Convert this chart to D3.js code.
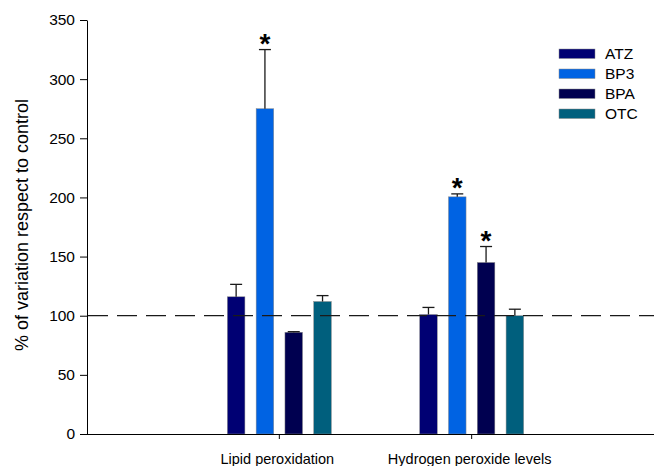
<!DOCTYPE html>
<html>
<head>
<meta charset="utf-8">
<script src="https://cdn.jsdelivr.net/npm/d3@7"></script>
<style>
  html, body { margin: 0; padding: 0; background: #fff; }
  svg { display: block; font-family: Arial, "Liberation Sans", sans-serif; }
</style>
</head>
<body>
<svg id="chart" width="654" height="466"></svg>
<script>
// Assay groups on the x axis
const categories = ["Lipid peroxidation", "Hydrogen peroxide levels"];
// Treatments (legend order)
const series = ["ATZ", "BP3", "BPA", "OTC"];
const seriesColors = ["#000073", "#0063E3", "#000050", "#005F7D"];
// Mean % of control, per treatment, in category order
const meanATZ = [116, 101];
const meanBP3 = [275, 200.5];
const meanBPA = [86, 145];
const meanOTC = [112, 100];
// Upper error (SE), same layout
const errATZ = [10.5, 6];
const errBP3 = [50, 2.5];
const errBPA = [0.5, 13.5];
const errOTC = [5, 5.5];
// Significant differences vs control
const sigATZ = [false, false];
const sigBP3 = [true, true];
const sigBPA = [false, true];
const sigOTC = [false, false];
const yTicks = [0, 50, 100, 150, 200, 250, 300, 350];
const controlLevel = 100;
const yTitle = "% of variation respect to control";

const means = [meanATZ, meanBP3, meanBPA, meanOTC];
const errs = [errATZ, errBP3, errBPA, errOTC];
const sigs = [sigATZ, sigBP3, sigBPA, sigOTC];

const rows = [];
series.forEach((s, i) => {
  categories.forEach((c, j) => {
    rows.push({ series: s, cat: c, mean: means[i][j], err: errs[i][j], sig: sigs[i][j], color: seriesColors[i] });
  });
});

const svg = d3.select("#chart");
const plotLeft = 87, plotTop = 20, plotBottom = 434, plotRight = 664;

const x0 = d3.scaleBand().domain(categories).range([plotLeft, plotRight]).paddingInner(0).paddingOuter(0.5);
const x1 = d3.scaleBand().domain(series).range([-57.6, 57.6]).paddingInner(0.39).paddingOuter(0.195);
const y = d3.scaleLinear().domain([0, 350]).range([plotBottom, plotTop]);

const barX = d => x0(d.cat) + x0.bandwidth() / 2 + x1(d.series);

// Bars
svg.append("g").selectAll("rect").data(rows).join("rect")
  .attr("x", barX)
  .attr("y", d => y(d.mean))
  .attr("width", x1.bandwidth())
  .attr("height", d => y(0) - y(d.mean))
  .attr("fill", d => d.color)
  .attr("stroke", "#8a8a8a")
  .attr("stroke-width", 0.5);

// Upper error bars
const eb = svg.append("g").attr("stroke", "#1a1a1a").attr("stroke-width", 1.3);
rows.forEach(d => {
  const cx = barX(d) + x1.bandwidth() / 2;
  eb.append("line").attr("x1", cx).attr("x2", cx).attr("y1", y(d.mean)).attr("y2", y(d.mean + d.err));
  eb.append("line").attr("x1", cx - 6).attr("x2", cx + 6).attr("y1", y(d.mean + d.err)).attr("y2", y(d.mean + d.err));
});

// Significance markers
svg.append("g").selectAll("text").data(rows.filter(d => d.sig)).join("text")
  .attr("x", d => barX(d) + x1.bandwidth() / 2)
  .attr("y", d => y(d.mean + d.err) + 3)
  .attr("text-anchor", "middle")
  .attr("font-size", 28)
  .attr("font-weight", "bold")
  .attr("fill", "#000")
  .text("*");

// Control reference line
svg.append("line")
  .attr("x1", plotLeft + 1).attr("x2", 654)
  .attr("y1", y(controlLevel)).attr("y2", y(controlLevel))
  .attr("stroke", "#1a1a1a").attr("stroke-width", 1.2)
  .attr("stroke-dasharray", "20,9");

// Y axis
const yAxis = svg.append("g").attr("transform", `translate(${plotLeft},0)`)
  .call(d3.axisLeft(y).tickValues(yTicks).tickSize(7).tickPadding(5).tickSizeOuter(0));
yAxis.selectAll("text").attr("font-size", 15.5).attr("fill", "#000").attr("font-family", "Arial, 'Liberation Sans', sans-serif");
yAxis.selectAll("line, path").attr("stroke", "#000");

// X axis
const xAxis = svg.append("g").attr("transform", `translate(0,${plotBottom})`)
  .call(d3.axisBottom(x0).tickSize(5).tickSizeOuter(0).tickPadding(0));
xAxis.selectAll("text").remove();
xAxis.select(".domain").attr("d", `M${plotLeft},0.5H654`);
xAxis.selectAll("line, path").attr("stroke", "#000");

svg.append("g").selectAll("text").data(categories).join("text")
  .attr("x", d => x0(d) + x0.bandwidth() / 2 - 2)
  .attr("y", 464)
  .attr("text-anchor", "middle")
  .attr("font-size", 14.5)
  .attr("fill", "#000")
  .text(d => d);

// Y axis title
svg.append("text")
  .attr("transform", `translate(28,${(plotTop + plotBottom) / 2 - 2}) rotate(-90)`)
  .attr("text-anchor", "middle")
  .attr("font-size", 18)
  .attr("fill", "#000")
  .text(yTitle);

// Legend
const legend = svg.append("g").attr("transform", "translate(559,49)");
series.forEach((s, i) => {
  const g = legend.append("g").attr("transform", `translate(0,${i * 20})`);
  g.append("rect").attr("width", 36).attr("height", 9.5).attr("fill", seriesColors[i])
    .attr("stroke", "#8a8a8a").attr("stroke-width", 0.5);
  g.append("text").attr("x", 46).attr("y", 4.75).attr("dy", "0.35em")
    .attr("font-size", 15.5).attr("fill", "#000").text(s);
});
</script>
</body>
</html>
